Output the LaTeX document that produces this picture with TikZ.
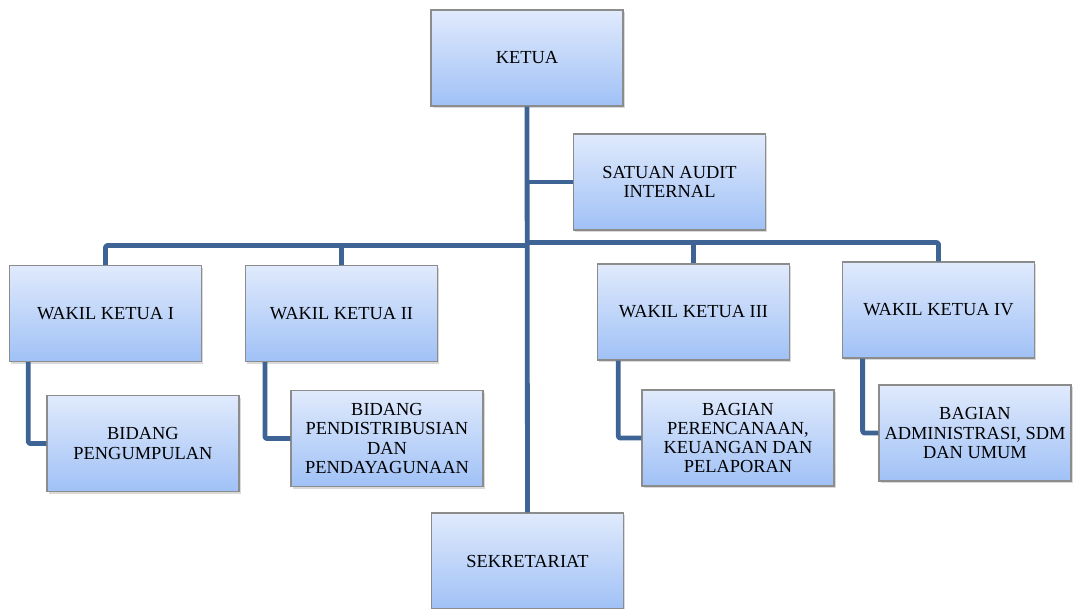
\documentclass[tikz,border=0pt]{standalone}
\usepackage{fontspec}
\setmainfont{Liberation Serif}
\newfontfamily\boxfont{Liberation Serif}
\usetikzlibrary{shadows}

\definecolor{linkblue}{RGB}{62,100,150}
\definecolor{boxtop}{RGB}{224,234,252}
\definecolor{boxbottom}{RGB}{160,193,246}
\tikzset{every picture/.style={line width=0.75pt}}
\tikzset{
  unitbox/.style={draw={rgb, 255:red, 140; green, 140; blue, 140 },line width=0.8pt,top color=boxtop,bottom color=boxbottom,
    minimum width=144pt,minimum height=72pt,inner sep=0.75pt,align=center,
    font=\boxfont\fontsize{13.8}{14.3}\selectfont,
    drop shadow={opacity=0.3,shadow xshift=1.2pt,shadow yshift=-1.5pt}},
  link/.style={draw=linkblue,line width=3.6pt,line join=round,rounded corners=1.5pt}
}

\begin{document}
\begin{tikzpicture}[x=0.75pt,y=0.75pt,yscale=-1,xscale=1]
        \useasboundingbox (0,0) rectangle (1073,608);

        % Text Node
        \node [unitbox] (ketua) at (527,58) {KETUA};
        % Text Node
        \node [unitbox] (audit) at (669.5,182) {SATUAN AUDIT\\INTERNAL};
        % Text Node
        \node [unitbox] (wk1) at (105.5,313.5) {WAKIL KETUA I};
        % Text Node
        \node [unitbox] (wk2) at (341.5,313.5) {WAKIL KETUA II};
        % Text Node
        \node [unitbox] (wk3) at (693.5,312) {WAKIL KETUA III};
        % Text Node
        \node [unitbox] (wk4) at (938.5,310) {WAKIL KETUA IV};
        % Text Node
        \node [unitbox] (pengumpulan) at (143,443.5) {BIDANG\\PENGUMPULAN};
        % Text Node
        \node [unitbox] (distribusi) at (387,438.5) {BIDANG\\PENDISTRIBUSIAN\\DAN\\PENDAYAGUNAAN};
        % Text Node
        \node [unitbox] (perencanaan) at (738,438) {BAGIAN\\PERENCANAAN,\\KEUANGAN DAN\\PELAPORAN};
        % Text Node
        \node [unitbox] (administrasi) at (975,433) {BAGIAN\\ADMINISTRASI, SDM\\DAN UMUM};
        % Text Node
        \node [unitbox] (sekretariat) at (527.5,561) {SEKRETARIAT};

        \coordinate (busl) at (527,245.5);
        \coordinate (busr) at (527,242.5);

        %Straight Lines 
        \draw [link] (ketua.south) -- (sekretariat.north);
        \draw [link] (ketua.south |- audit.west) -- (audit.west);
        \draw [link] (wk1.north) |- (busl);
        \draw [link] (wk2.north) -- (wk2.north |- busl);
        \draw [link] (busr) -| (wk4.north);
        \draw [link] (wk3.north) -- (wk3.north |- busr);
        %Straight Lines 
        \draw [link] ([xshift=14.5pt]wk1.south west) |- (pengumpulan.west);
        \draw [link] ([xshift=15pt]wk2.south west) |- (distribusi.west);
        \draw [link] ([xshift=16pt]wk3.south west) |- (perencanaan.west);
        \draw [link] ([xshift=15.5pt]wk4.south west) |- (administrasi.west);

    \end{tikzpicture}
\end{document}
